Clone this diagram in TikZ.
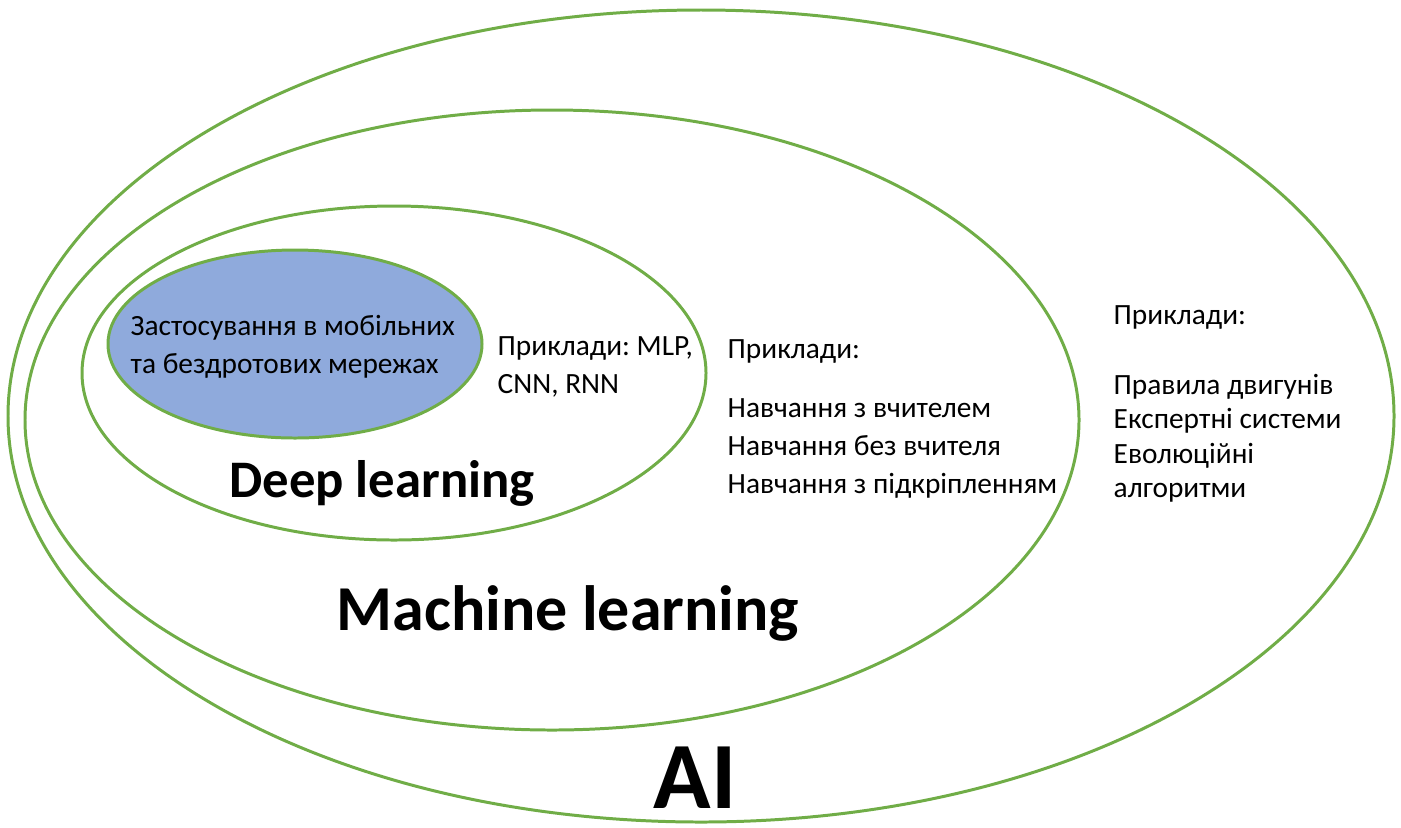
\documentclass[tikz,border=0pt]{standalone}
\usepackage{fontspec}
\setmainfont{Carlito}
\definecolor{ringgreen}{HTML}{70AD47}
\definecolor{appblue}{HTML}{8FAADC}
\begin{document}
\frenchspacing
\begin{tikzpicture}[x=0.01cm, y=-0.01cm,
    ring/.style={draw=ringgreen, line width=0.85pt},
    body/.style={font=\fontsize{8.35}{10.8}\selectfont, align=left, anchor=west, inner sep=0pt},
    title/.style={font=\bfseries, inner sep=0pt}]
    \useasboundingbox (0,0) rectangle (1401,827);

    % Kola: AI, Machine learning, Deep learning
    \draw[ring] (701,416) ellipse [x radius=693, y radius=406];
    \draw[ring] (552,420) ellipse [x radius=527, y radius=310];
    \draw[ring] (394,373) ellipse [x radius=312, y radius=167];

    % Zastosuvannia
    \draw[ring, fill=appblue] (295,344) ellipse [x radius=187, y radius=94];
    \node[body] (app) at (130,347) {Застосування в мобільних\\та бездротових мережах};

    % Pryklady
    \node[body] (dlex) at (497,367) {Приклади: MLP,\\CNN, RNN};
    \node[body] (mlex) at (727,419) {Приклади:\\[6pt]Навчання з вчителем\\Навчання без вчителя\\Навчання з підкріпленням};
    \node[body, font=\fontsize{8.35}{9.8}\selectfont] (aiex) at (1113,404) {Приклади:\\[10pt]Правила двигунів\\Експертні системи\\Еволюційні\\алгоритми};

    % Nazvy
    \node[title, font=\fontsize{15}{18}\bfseries\selectfont] (dl) at (382,483) {Deep learning};
    \node[title, font=\fontsize{18.2}{22}\bfseries\selectfont] (ml) at (568,613) {Machine learning};
    \node[title, font=\fontsize{27}{32}\bfseries\selectfont] (ai) at (695,778) {AI};
\end{tikzpicture}
\end{document}
